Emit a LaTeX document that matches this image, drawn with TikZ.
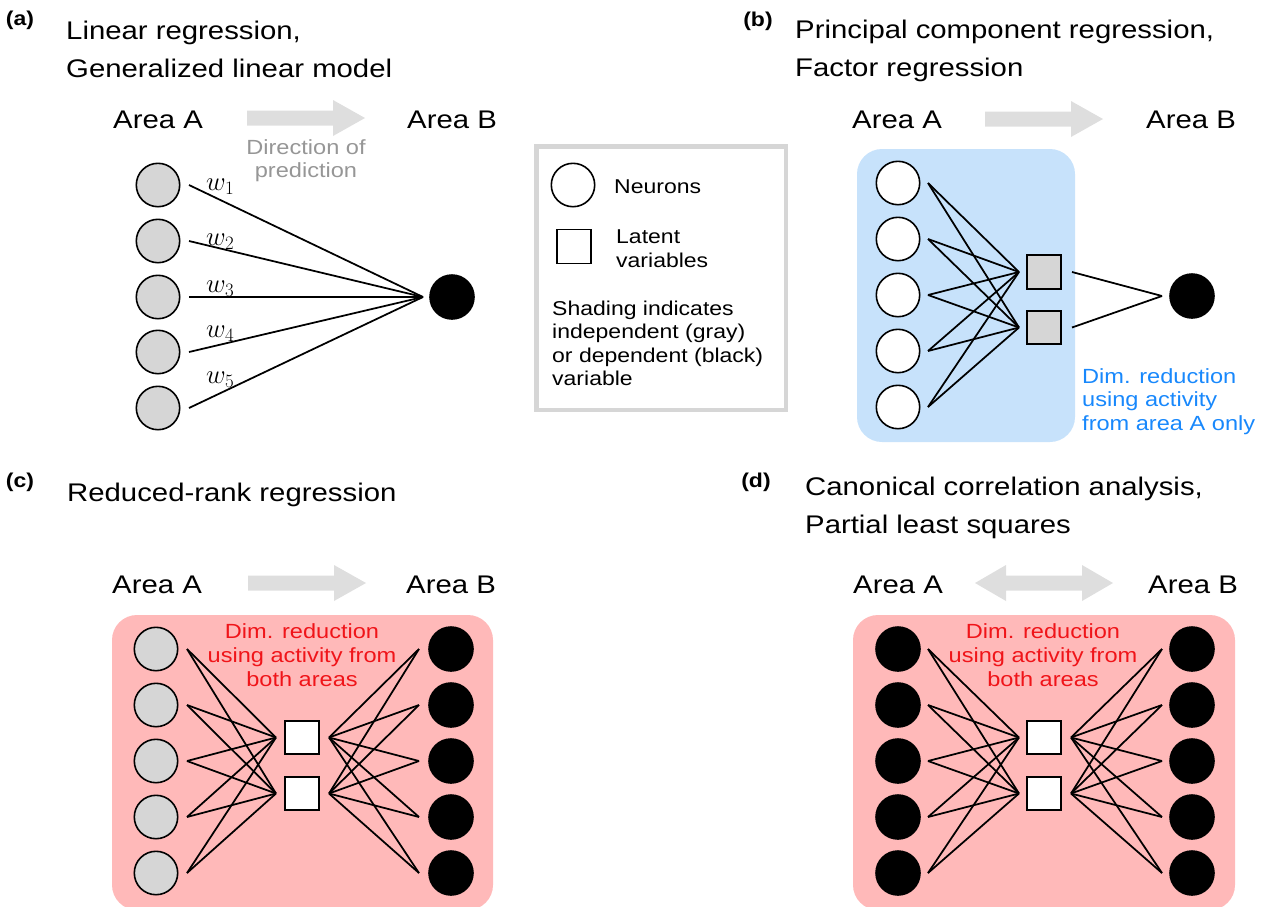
\RequirePackage{fix-cm}
\documentclass[tikz,border=0pt]{standalone}
\usepackage[no-math]{fontspec}
\setmainfont{Liberation Sans}[FakeStretch=1.15]
\usetikzlibrary{calc}
\definecolor{lgray}{RGB}{214,214,214}
\definecolor{agray}{RGB}{222,222,222}
\definecolor{tgray}{RGB}{150,150,150}
\definecolor{bluebox}{RGB}{199,226,251}
\definecolor{bluetxt}{RGB}{24,136,252}
\definecolor{pinkbox}{RGB}{255,185,185}
\definecolor{redtxt}{RGB}{240,20,25}
\tikzset{
  neuron/.style={circle, draw=black, line width=1.6pt, minimum size=43.4pt, inner sep=0pt},
  gneuron/.style={neuron, fill=lgray},
  wneuron/.style={neuron, fill=white},
  bneuron/.style={neuron, fill=black, minimum size=44pt},
  latent/.style={rectangle, draw=black, line width=1.7pt, minimum width=34pt, minimum height=33.5pt, inner sep=0pt},
  glatent/.style={latent, fill=lgray},
  wlatent/.style={latent, fill=white},
  conn/.style={line width=1.75pt, black},
  txt/.style={inner sep=0pt, anchor=base west},
  titletxt/.style={txt, font=\fontsize{25.5}{30}\selectfont},
  areatxt/.style={txt, font=\fontsize{25.5}{30}\selectfont},
  smalltxt/.style={inner sep=0pt, font=\fontsize{20.5}{24}\selectfont},
  legtxt/.style={txt, font=\fontsize{20}{24}\selectfont},
  panellbl/.style={inner sep=0pt, font=\bfseries\fontsize{20}{22}\selectfont},
  wlbl/.style={txt, font=\fontsize{27}{28}\selectfont},
  bigarrow/.pic={\fill[agray] (0,-7.5) -- (86,-7.5) -- (86,-18) -- (118,0) -- (86,18) -- (86,7.5) -- (0,7.5) -- cycle;}
}
\begin{document}
\begin{tikzpicture}[x=1pt,y=-1pt]
\useasboundingbox (0,0) rectangle (1270,906);

% ---------- backgrounds ----------
\fill[bluebox, rounded corners=25pt] (857,149) rectangle (1075,442);
\fill[pinkbox, rounded corners=25pt] (112,615) rectangle (493,910);
\fill[pinkbox, rounded corners=25pt] (853,615) rectangle (1235,910);
\draw[lgray, line width=4.5pt] (536.25,146.25) rectangle (785.75,409.75);

% ---------- big arrows ----------
\pic at (247,118) {bigarrow};
\pic at (985,119) {bigarrow};
\pic at (248,583) {bigarrow};
\fill[agray] (975,583) -- (1006,565) -- (1006,575.5) -- (1082,575.5) -- (1082,565) -- (1113,583)
  -- (1082,601) -- (1082,590.5) -- (1006,590.5) -- (1006,601) -- cycle;

% ---------- panel labels and titles ----------
\node[panellbl] (la) at (20,20) {(a)};
\node[panellbl] (lb) at (758,21) {(b)};
\node[panellbl] (lc) at (20,482) {(c)};
\node[panellbl] (ld) at (756,482) {(d)};

\node[titletxt] (ta1) at (66,39) {Linear regression,};
\node[titletxt] (ta2) at (66,77) {Generalized linear model};
\node[titletxt] (tb1) at (795,38) {Principal component regression,};
\node[titletxt] (tb2) at (795,76) {Factor regression};
\node[titletxt] (tc1) at (67,501) {Reduced-rank regression};
\node[titletxt] (td1) at (805,495) {Canonical correlation analysis,};
\node[titletxt] (td2) at (805,533) {Partial least squares};

% ---------- Area labels ----------
\node[areatxt] (aAa) at (113,128) {Area A};
\node[areatxt] (aAb) at (407,128) {Area B};
\node[areatxt] (bAa) at (852,128) {Area A};
\node[areatxt] (bAb) at (1146,128) {Area B};
\node[areatxt] (cAa) at (112,593) {Area A};
\node[areatxt] (cAb) at (406,593) {Area B};
\node[areatxt] (dAa) at (853,593) {Area A};
\node[areatxt] (dAb) at (1148,593) {Area B};

\node[smalltxt, text=tgray, anchor=base] (dir1) at (306,154) {Direction of};
\node[smalltxt, text=tgray, anchor=base] (dir2) at (306,177) {prediction};

% ---------- panel (a) ----------
\foreach \i/\y in {1/185,2/241,3/297,4/352,5/408}
  \node[gneuron] (a\i) at (158,\y) {};
\node[bneuron] (aB) at (452,297) {};
\coordinate (aC) at ($(aB)+(-29,0)$);
\foreach \i in {1,...,5}
  \draw[conn] ($(a\i)+(31,0)$) -- (aC);
\node[wlbl] (w1) at (206,190) {$w_1$};
\node[wlbl] (w2) at (206,245) {$w_2$};
\node[wlbl] (w3) at (206,292) {$w_3$};
\node[wlbl] (w4) at (206,337) {$w_4$};
\node[wlbl] (w5) at (206,383) {$w_5$};

% ---------- legend ----------
\node[wneuron] (legn) at (573,185) {};
\node[legtxt] (legnt) at (614,193) {Neurons};
\node[wlatent, minimum height=34pt] (legl) at (574,246.5) {};
\node[legtxt] (leglt1) at (616,243) {Latent};
\node[legtxt] (leglt2) at (616,267) {variables};
\node[legtxt] (legs1) at (552,315) {Shading indicates};
\node[legtxt] (legs2) at (552,338.5) {independent (gray)};
\node[legtxt] (legs3) at (552,362) {or dependent (black)};
\node[legtxt] (legs4) at (552,385.5) {variable};

% ---------- panel (b) ----------
\foreach \i/\y in {1/183,2/239,3/295,4/351,5/407}
  \node[wneuron] (b\i) at (898,\y) {};
\node[glatent] (bL1) at (1044,272) {};
\node[glatent] (bL2) at (1044,327.5) {};
\node[bneuron] (bB) at (1192,296) {};
\coordinate (bC) at ($(bB)+(-30,0)$);
\foreach \i in {1,...,5}
  \foreach \j in {1,2}
    \draw[conn] ($(b\i)+(30,0)$) -- ($(bL\j)+(-25,0)$);
\foreach \j in {1,2}
  \draw[conn] ($(bL\j)+(28,0)$) -- (bC);
\node[smalltxt, txt, text=bluetxt] (bt1) at (1082,383) {Dim. reduction};
\node[smalltxt, txt, text=bluetxt] (bt2) at (1082,406.5) {using activity};
\node[smalltxt, txt, text=bluetxt] (bt3) at (1082,430) {from area A only};

% ---------- panel (c) ----------
\foreach \i/\y in {1/649,2/705,3/761,4/817,5/873} {
  \node[gneuron] (cA\i) at (156,\y) {};
  \node[bneuron] (cB\i) at (451,\y) {};
}
\node[wlatent] (cL1) at (302,737.5) {};
\node[wlatent] (cL2) at (302,793.5) {};
\foreach \i in {1,...,5}
  \foreach \j in {1,2} {
    \draw[conn] ($(cA\i)+(31,0)$) -- ($(cL\j)+(-26,0)$);
    \draw[conn] ($(cL\j)+(27,0)$) -- ($(cB\i)+(-32,0)$);
  }
\node[smalltxt, anchor=base, text=redtxt] (ct1) at (302,638) {Dim. reduction};
\node[smalltxt, anchor=base, text=redtxt] (ct2) at (302,662) {using activity from};
\node[smalltxt, anchor=base, text=redtxt] (ct3) at (302,686) {both areas};

% ---------- panel (d) ----------
\foreach \i/\y in {1/649,2/705,3/761,4/817,5/873} {
  \node[bneuron] (dA\i) at (898,\y) {};
  \node[bneuron] (dB\i) at (1192,\y) {};
}
\node[wlatent] (dL1) at (1044,737.5) {};
\node[wlatent] (dL2) at (1044,793.5) {};
\foreach \i in {1,...,5}
  \foreach \j in {1,2} {
    \draw[conn] ($(dA\i)+(30,0)$) -- ($(dL\j)+(-25,0)$);
    \draw[conn] ($(dL\j)+(27,0)$) -- ($(dB\i)+(-30,0)$);
  }
\node[smalltxt, anchor=base, text=redtxt] (dt1) at (1043,638) {Dim. reduction};
\node[smalltxt, anchor=base, text=redtxt] (dt2) at (1043,662) {using activity from};
\node[smalltxt, anchor=base, text=redtxt] (dt3) at (1043,686) {both areas};
\end{tikzpicture}
\end{document}
